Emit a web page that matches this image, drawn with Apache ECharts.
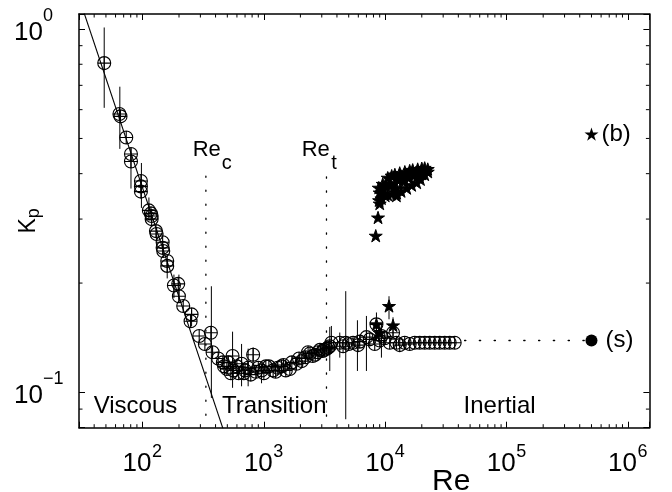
<!DOCTYPE html>
<html>
<head>
<meta charset="utf-8">
<script src="https://cdn.jsdelivr.net/npm/echarts@6/dist/echarts.min.js"></script>
<style>
html,body{margin:0;padding:0;background:#fff;}
#chart{width:672px;height:492px;}
</style>
</head>
<body>
<div id="chart"></div>
<script>
// ---------------- data (Re, Kp) ----------------
const viscousCircles = [
  [48.4,0.806],[64.6,0.584],[65.9,0.575],[73.5,0.503],[80.4,0.453],[80.4,0.432],
  [97.1,0.382],[97.1,0.369],[97.1,0.357],[113,0.317],[117.4,0.311],[119,0.306],[119,0.300],
  [129.1,0.278],[130.8,0.273],[146.6,0.259],[146.6,0.250],[148.3,0.245],[159.9,0.230],[159.9,0.223],
  [181.6,0.197],[197,0.199],[199.6,0.184],[216.6,0.173],[253.9,0.164],[249.1,0.157],[293.3,0.143],
  [326.7,0.136],[366,0.146],[378,0.129],[420.3,0.124]
];
const transitionCircles = [
  [459.5,0.121],[470,0.118],[495.8,0.116],[510,0.121],[534.7,0.113],[552.3,0.126],[560,0.115],
  [599.1,0.118],[620,0.113],[655.2,0.120],[684.3,0.113],[700,0.115],[742.3,0.117],[780,0.112],
  [816,0.127],[858.8,0.114],[900,0.117],[957,0.115],[1000,0.113],[1038,0.118],[1100,0.118],
  [1192,0.115],[1250,0.114],[1303,0.117],[1398,0.118],[1450,0.119],[1516,0.115],[1636,0.116],
  [1700,0.121],[1857,0.120],[1950,0.124],[2054,0.122],[2200,0.125],[2314,0.129],[2400,0.128],
  [2529,0.126],[2650,0.127],[2781,0.129],[2900,0.131],[3057,0.130],[3150,0.131],[3299,0.132],
  [3400,0.133],[3491,0.134]
];
const inertialCircles = [
  [3600,0.137],[4221,0.137],[4492,0.134],[4727,0.137],[5000,0.136],[5428,0.137],[5968,0.135],
  [6164,0.138],[6998,0.142],[7451,0.140],[8192,0.136],[8461,0.154],[9006,0.139],[9301,0.143],
  [9899,0.141],[10880,0.137],[11590,0.146],[12360,0.137],[13160,0.135],[14460,0.137],[15900,0.136],
  [17480,0.137],[19220,0.137],[21130,0.137],[23230,0.137],[25540,0.137],[28070,0.137],
  [30870,0.137],[33940,0.137],[37310,0.137]
];
const bubbleStars = [
  [8350,0.270],[8721,0.303],[9006,0.331],[12360,0.348],
  [8838,0.366],[9533,0.375],[10480,0.390],[11300,0.395],[12000,0.398],[13160,0.402],[14500,0.405],
  [15900,0.408],[16830,0.410],[18500,0.412],[20000,0.414],[21130,0.415],[22400,0.412],
  [8900,0.338],[9300,0.342],[10000,0.348],[10480,0.350],[11300,0.352],[12430,0.354],[13500,0.358],
  [15020,0.365],[16500,0.372],[18160,0.378],[19500,0.386],[21130,0.398],[22400,0.405],
  [9000,0.355],[9600,0.362],[10200,0.370],[11000,0.375],[12000,0.378],[13000,0.385],[14200,0.390],
  [15500,0.390],[17000,0.395],[18500,0.395],[20000,0.400],[11970,0.363],[13920,0.382],[19960,0.402],
  [10740,0.173],[8461,0.154],[11590,0.153],[9006,0.146]
];
// error bars: [Re, low, high]
const circleErrors = [
  [48.4,0.607,1.01],[65.1,0.468,0.694],[80.4,0.364,0.47],[98,0.322,0.428],[113,0.297,0.344],
  [159.9,0.206,0.228],[181.6,0.182,0.211],[199.6,0.179,0.211],[253.9,0.152,0.169],
  [369.5,0.0966,0.196],[552.3,0.103,0.147],[655.2,0.104,0.136],[742.3,0.104,0.132],
  [816,0.117,0.133],[957,0.106,0.120],[3491,0.1146,0.1515],[3600,0.1287,0.1524],
  [4221,0.1247,0.1462],[4727,0.0844,0.190],[5900,0.1146,0.158],[6998,0.1146,0.1624],
  [9301,0.1247,0.154]
];
const starErrors = [[10740,0.159,0.184],[8461,0.142,0.166],[11590,0.143,0.161]];
// viscous fit Kp = C/Re (end points)
const viscousFit = [[30,1.22],[480,0.0763]];
// critical Reynolds numbers
const reC = 333, reT = 3280;
const reDotTop = [0.394, 0.392];
// legend-like markers
const markerRe = 5e5;
const markerKpB = 0.514, markerKpS = 0.139;
const sLineStart = 45000;
// axes
const xRange = [30, 1.5e6];
const yRange = [0.08, 1.1];
const tickBase = '10';

// --------------- helpers ---------------
const FONT = '"Liberation Sans", Arial, Helvetica, sans-serif';
const Y_PX_PER_DECADE = 363.2;
// shift a log range by a number of pixels (positive = labels drawn higher)
function shiftedRange(range, px) {
  const f = Math.pow(10, px / Y_PX_PER_DECADE);
  return [range[0] / f, range[1] / f];
}
const yExpRange = shiftedRange(yRange, 13.5);
const yBaseRange = shiftedRange(yRange, -3.4);

const minorX = [], minorY = [];
for (let e = 1; e <= 6; e++) for (let m = 2; m <= 9; m++) {
  const v = m * Math.pow(10, e);
  if (v > xRange[0] * 1.001 && v < xRange[1]) minorX.push([v, 0.1]);
}
for (let e = -2; e <= 0; e++) for (let m = 2; m <= 9; m++) {
  const v = m * Math.pow(10, e);
  if (v > yRange[0] * 1.001 && v < yRange[1]) minorY.push([100, v]);
}
function decade(v) {
  const e = Math.log10(v);
  const r = Math.round(e);
  return Math.abs(e - r) > 1e-6 ? null : r;
}
function baseLabel(v) { return decade(v) === null ? '' : tickBase; }
function expLabel(v) {
  const r = decade(v);
  if (r === null) return '';
  return r < 0 ? '\u2212' + (-r) : String(r);
}
const circlePath = 'path://M0,10A10,10,0,1,1,20,10A10,10,0,1,1,0,10ZM10,0L10,20M0,10L20,10';
const starPath = 'path://M10,0L12.25,6.91L19.51,6.91L13.63,11.18L15.88,18.09L10,13.82L4.12,18.09L6.37,11.18L0.49,6.91L7.75,6.91Z';

function errRender(params, api) {
  const a = api.coord([api.value(0), api.value(1)]);
  const b = api.coord([api.value(0), api.value(2)]);
  return {type: 'line', shape: {x1: a[0], y1: a[1], x2: b[0], y2: b[1]},
          style: {stroke: '#000', lineWidth: 1}};
}
function minorXRender(params, api) {
  const cs = params.coordSys;
  const x = api.coord([api.value(0), api.value(1)])[0];
  const L = 3.5;
  return {type: 'group', children: [
    {type: 'line', shape: {x1: x, y1: cs.y + cs.height, x2: x, y2: cs.y + cs.height - L}, style: {stroke: '#000', lineWidth: 1}},
    {type: 'line', shape: {x1: x, y1: cs.y, x2: x, y2: cs.y + L}, style: {stroke: '#000', lineWidth: 1}}
  ]};
}
function minorYRender(params, api) {
  const cs = params.coordSys;
  const y = api.coord([api.value(0), api.value(1)])[1];
  const L = 3.5;
  return {type: 'group', children: [
    {type: 'line', shape: {x1: cs.x, y1: y, x2: cs.x + L, y2: y}, style: {stroke: '#000', lineWidth: 1}},
    {type: 'line', shape: {x1: cs.x + cs.width, y1: y, x2: cs.x + cs.width - L, y2: y}, style: {stroke: '#000', lineWidth: 1}}
  ]};
}

const axisCommon = {
  type: 'log', logBase: 10,
  axisLine: {show: true, onZero: false, lineStyle: {color: '#000', width: 1.5}},
  axisTick: {show: true, inside: true, length: 6, lineStyle: {color: '#000', width: 1}},
  splitLine: {show: false}, minorTick: {show: false}, minorSplitLine: {show: false}
};
const overlayAxis = {
  type: 'log', logBase: 10,
  axisLine: {show: false}, axisTick: {show: false},
  splitLine: {show: false}, minorTick: {show: false}, minorSplitLine: {show: false}
};

const option = {
  animation: false,
  backgroundColor: '#fff',
  textStyle: {fontFamily: FONT, color: '#000'},
  grid: {left: 79, top: 14, right: 22.6, bottom: 64.3, containLabel: false, outerBoundsMode: 'none'},
  xAxis: [
    Object.assign({}, axisCommon, {
      position: 'bottom', min: xRange[0], max: xRange[1],
      name: 'Re', nameLocation: 'middle', nameGap: 39, nameMoveOverlap: false,
      nameTextStyle: {fontSize: 30, fontFamily: FONT, color: '#000', padding: [0, 0, 0, 174]},
      axisLabel: {show: true, margin: 23, formatter: baseLabel, fontSize: 26, lineHeight: 26,
                  fontFamily: FONT, color: '#000', padding: [0, 11, 0, 0]}
    }),
    Object.assign({}, axisCommon, {
      position: 'top', min: xRange[0], max: xRange[1], axisLabel: {show: false}
    }),
    Object.assign({}, overlayAxis, {
      position: 'bottom', min: xRange[0], max: xRange[1],
      axisLabel: {show: true, margin: 15.5, formatter: expLabel, fontSize: 18, lineHeight: 18,
                  fontFamily: FONT, color: '#000', padding: [0, 0, 0, 29]}
    })
  ],
  yAxis: [
    Object.assign({}, axisCommon, {
      position: 'left', min: yRange[0], max: yRange[1],
      name: '{k|K}{s|p}', nameLocation: 'middle', nameGap: 39, nameRotate: 90, nameMoveOverlap: false,
      nameTextStyle: {color: '#000', fontFamily: FONT, fontSize: 23, rich: {
        k: {fontSize: 23, lineHeight: 23, verticalAlign: 'top', fontFamily: FONT, color: '#000'},
        s: {fontSize: 18, lineHeight: 18, verticalAlign: 'top', padding: [8, 0, 0, 0], fontFamily: FONT, color: '#000'}
      }},
      axisLabel: {show: false}
    }),
    Object.assign({}, axisCommon, {
      position: 'right', min: yRange[0], max: yRange[1], axisLabel: {show: false}
    }),
    Object.assign({}, overlayAxis, {
      position: 'left', min: yBaseRange[0], max: yBaseRange[1],
      axisLabel: {show: true, margin: 65, align: 'left', formatter: baseLabel, fontSize: 26, lineHeight: 26,
                  fontFamily: FONT, color: '#000'}
    }),
    Object.assign({}, overlayAxis, {
      position: 'left', min: yExpRange[0], max: yExpRange[1],
      axisLabel: {show: true, margin: 36, align: 'left', formatter: expLabel, fontSize: 18, lineHeight: 18,
                  fontFamily: FONT, color: '#000'}
    })
  ],
  series: [
    {type: 'custom', name: 'minorX', silent: true, renderItem: minorXRender, data: minorX, z: 1},
    {type: 'custom', name: 'minorY', silent: true, renderItem: minorYRender, data: minorY, z: 1},
    {type: 'line', name: 'Re_c', silent: true, showSymbol: false, symbol: 'none', data: [[reC, reDotTop[0]], [reC, yRange[0]]],
     lineStyle: {color: '#000', width: 1.3, type: [1.3, 12.7], cap: 'round'}, z: 2},
    {type: 'line', name: 'Re_t', silent: true, showSymbol: false, symbol: 'none', data: [[reT, reDotTop[1]], [reT, yRange[0]]],
     lineStyle: {color: '#000', width: 1.3, type: [1.3, 12.7], cap: 'round'}, z: 2},
    {type: 'line', name: 's-guide', silent: true, showSymbol: false, symbol: 'none', data: [[sLineStart, markerKpS], [markerRe, markerKpS]],
     lineStyle: {color: '#000', width: 1.3, type: [1.3, 13.5], cap: 'round'}, z: 2},
    {type: 'custom', name: 'circleErr', silent: true, renderItem: errRender, data: circleErrors, z: 3},
    {type: 'custom', name: 'starErr', silent: true, renderItem: errRender, data: starErrors, z: 3},
    {type: 'line', name: 'fit', silent: true, showSymbol: false, symbol: 'none', clip: true, data: viscousFit,
     lineStyle: {color: '#000', width: 1.1}, z: 3},
    {type: 'scatter', name: 'single', silent: true, symbol: circlePath, symbolSize: 13,
     data: viscousCircles.concat(transitionCircles, inertialCircles),
     itemStyle: {color: 'none', borderColor: '#000', borderWidth: 1.1, opacity: 1}, z: 4},
    {type: 'scatter', name: 'bubbles', silent: true, symbol: starPath, symbolSize: 13, symbolKeepAspect: true,
     data: bubbleStars,
     itemStyle: {color: '#000', borderColor: '#000', borderWidth: 1, opacity: 1}, z: 5},
    {type: 'scatter', name: 'markerB', silent: true, symbol: starPath, symbolSize: 14, symbolKeepAspect: true,
     data: [{value: [markerRe, markerKpB], name: '(b)'}],
     itemStyle: {color: '#000', opacity: 1},
     label: {show: true, position: 'right', distance: 3, formatter: '{b}', fontSize: 24, fontFamily: FONT, color: '#000'}, z: 5},
    {type: 'scatter', name: 'markerS', silent: true, symbol: 'circle', symbolSize: 12,
     data: [{value: [markerRe, markerKpS], name: '(s)'}],
     itemStyle: {color: '#000', opacity: 1},
     label: {show: true, position: 'right', distance: 8, formatter: '{b}', fontSize: 24, fontFamily: FONT, color: '#000'}, z: 5}
  ],
  graphic: [
    {type: 'text', x: 93.7, y: 406, silent: true, style: {text: 'Viscous', font: '24px ' + FONT, fill: '#000', align: 'left', textAlign: 'left', verticalAlign: 'middle', textVerticalAlign: 'middle'}},
    {type: 'text', x: 222, y: 406, silent: true, style: {text: 'Transition', font: '24px ' + FONT, fill: '#000', align: 'left', textAlign: 'left', verticalAlign: 'middle', textVerticalAlign: 'middle'}},
    {type: 'text', x: 463.6, y: 406, silent: true, style: {text: 'Inertial', font: '24px ' + FONT, fill: '#000', align: 'left', textAlign: 'left', verticalAlign: 'middle', textVerticalAlign: 'middle'}},
    {type: 'text', x: 192.7, y: 149.5, silent: true, style: {text: 'Re', font: '22px ' + FONT, fill: '#000', align: 'left', textAlign: 'left', verticalAlign: 'middle', textVerticalAlign: 'middle'}},
    {type: 'text', x: 221.7, y: 163, silent: true, style: {text: 'c', font: '20px ' + FONT, fill: '#000', align: 'left', textAlign: 'left', verticalAlign: 'middle', textVerticalAlign: 'middle'}},
    {type: 'text', x: 301.7, y: 149.5, silent: true, style: {text: 'Re', font: '22px ' + FONT, fill: '#000', align: 'left', textAlign: 'left', verticalAlign: 'middle', textVerticalAlign: 'middle'}},
    {type: 'text', x: 331.2, y: 163, silent: true, style: {text: 't', font: '20px ' + FONT, fill: '#000', align: 'left', textAlign: 'left', verticalAlign: 'middle', textVerticalAlign: 'middle'}}
  ]
};

const chart = echarts.init(document.getElementById('chart'), null, {renderer: 'canvas'});
chart.setOption(option);
</script>
</body>
</html>
